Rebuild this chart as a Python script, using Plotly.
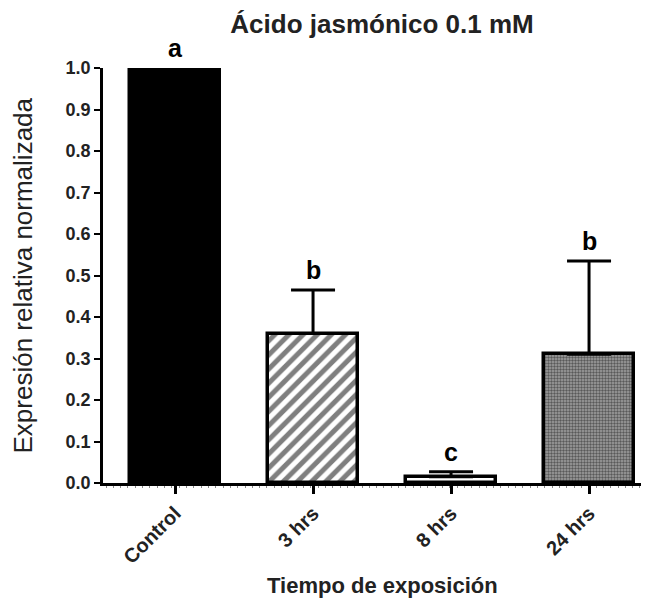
import plotly.graph_objects as go

categories = ["Control", "3 hrs", "8 hrs", "24 hrs"]
values = [1.0, 0.36, 0.015, 0.31]
errors_up = [0.0, 0.105, 0.012, 0.225]
letters = ["a", "b", "c", "b"]
y_ticks = [0.0, 0.1, 0.2, 0.3, 0.4, 0.5, 0.6, 0.7, 0.8, 0.9, 1.0]

FONT = "Arial, Liberation Sans, sans-serif"
xpos = list(range(len(categories)))

# page body has an 8px margin: compensate so the chart lands where the reference is
OFF = 8
W, H = 649 - OFF, 601 - OFF
L, T, R, B = 103 - OFF, 68 - OFF, 0, 118
PW, PH = W - L - R, H - T - B

patterns = [
    dict(shape="", fgcolor="black", bgcolor="black"),
    dict(shape="/", fgcolor="black", bgcolor="white", size=10, solidity=0.5),
    dict(shape="", fgcolor="white", bgcolor="white"),
    dict(shape=".", fgcolor="#111111", bgcolor="#a0a0a0", size=3, solidity=0.5),
]
fills = ["black", "white", "white", "#a0a0a0"]

fig = go.Figure()
for i in xpos:
    fig.add_trace(go.Bar(
        x=[xpos[i]], y=[values[i]],
        width=0.65,
        marker=dict(color=fills[i], pattern=patterns[i],
                    line=dict(color="black", width=3.5)),
        error_y=dict(type="data", symmetric=False, array=[errors_up[i]],
                     arrayminus=[0], color="black", thickness=3, width=22,
                     visible=errors_up[i] > 0),
        showlegend=False, hoverinfo="skip",
    ))

for i in xpos:
    fig.add_annotation(x=xpos[i], y=values[i] + errors_up[i], xref="x", yref="y",
                       text=f"<b>{letters[i]}</b>", showarrow=False,
                       yshift=20, yanchor="middle",
                       font=dict(family=FONT, size=25, color="black"))

fig.add_annotation(x=(22 - 103) / PW, y=0.5, xref="paper", yref="paper",
                   text="Expresión relativa normalizada", textangle=-90,
                   showarrow=False, xanchor="center", yanchor="middle",
                   font=dict(family=FONT, size=26, color="#222222"))
fig.add_annotation(x=(382 - 103) / PW, y=(483 - 585) / PH, xref="paper", yref="paper",
                   text="<b>Tiempo de exposición</b>", showarrow=False,
                   xanchor="center", yanchor="middle",
                   font=dict(family=FONT, size=22, color="#222222"))

fig.update_layout(
    width=W, height=H,
    margin=dict(l=L, r=R, t=T, b=B),
    plot_bgcolor="white", paper_bgcolor="white",
    title=dict(text="<b>Ácido jasmónico 0.1 mM</b>", x=(382 - OFF) / W, y=1 - (24 - OFF) / H,
               xanchor="center", yanchor="middle", xref="container", yref="container",
               font=dict(family=FONT, size=26, color="#222222")),
    bargap=0,
)
fig.update_xaxes(
    range=[-0.522, -0.522 + PW / 138],
    tickmode="array", tickvals=xpos, ticktext=[f"<b>{c}</b>" for c in categories],
    tickangle=-45, tickfont=dict(family=FONT, size=20, color="#222222"),
    showline=True, linecolor="black", linewidth=2.5,
    ticks="outside", ticklen=8, tickwidth=2.5, tickcolor="black",
    showgrid=False, zeroline=False,
    minor=dict(dtick=0.053, tick0=-0.5, ticks="outside", ticklen=2, tickwidth=1,
               tickcolor="#888888", showgrid=False),
)
fig.update_yaxes(
    range=[0, 1.0],
    tickmode="array", tickvals=y_ticks, ticktext=[f"<b>{v:.1f}</b>" for v in y_ticks],
    tickfont=dict(family=FONT, size=18, color="#222222"),
    showline=True, linecolor="black", linewidth=2.5,
    ticks="outside", ticklen=6, tickwidth=2, tickcolor="black",
    showgrid=False, zeroline=False,
)

fig.write_html("out.html")
